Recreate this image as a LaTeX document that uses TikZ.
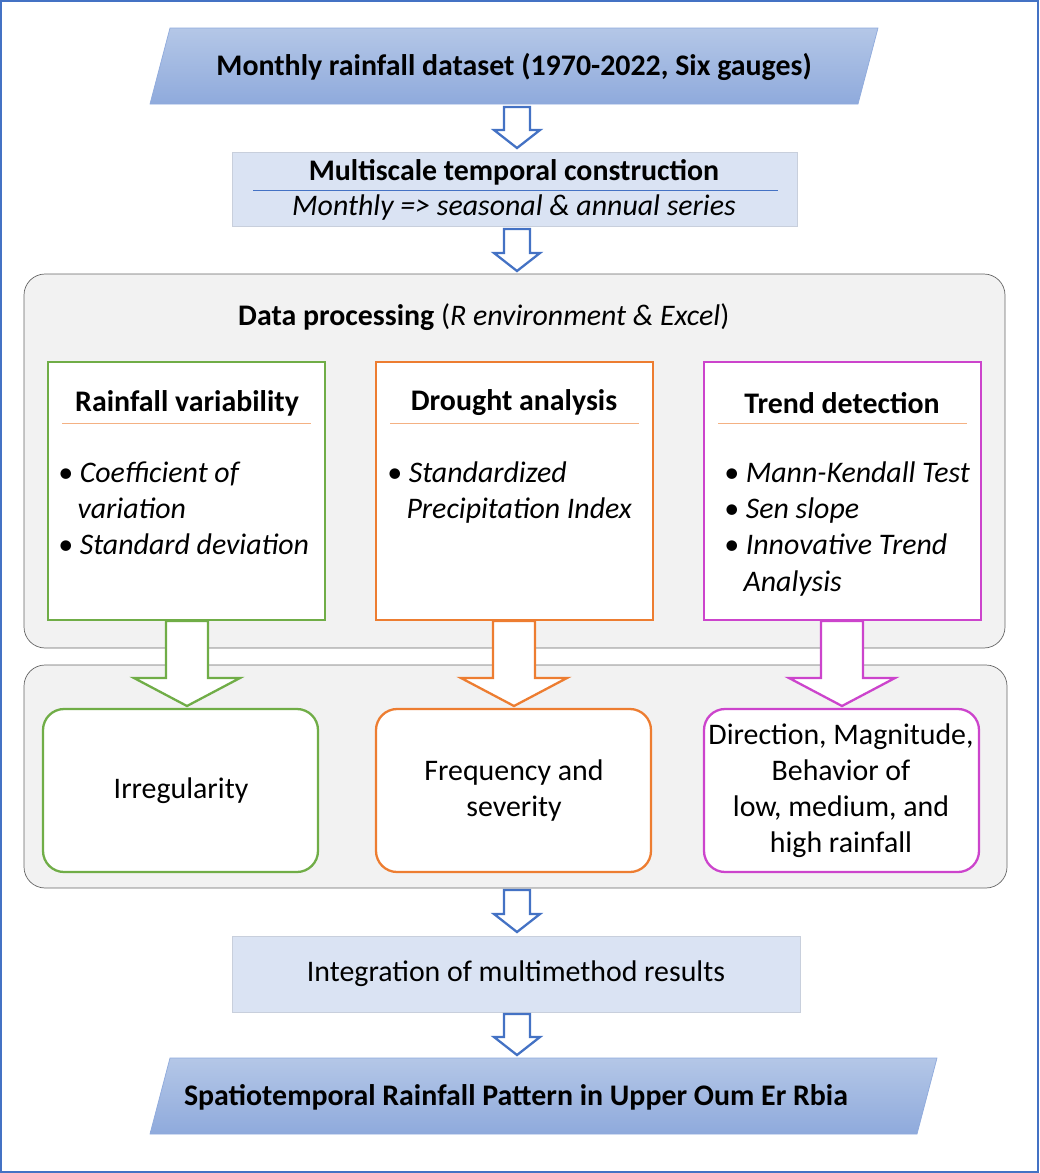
\documentclass[tikz,border=0pt]{standalone}
\usepackage{fontspec}
\setmainfont{Carlito}
\begin{document}
\begin{tikzpicture}[x=0.02cm,y=-0.02cm,
 para/.style={top color=pt,bottom color=pb,shading angle=0},
 lbox/.style={draw=lb!80!gray,fill=lb},
 gbox/.style={draw=gray!80!black,fill=gray!10,rounded corners=12},
 t/.style={font=\fontsize{17}{20.5}\selectfont,align=center},
 tb/.style={t,font=\fontsize{17}{20.5}\selectfont\bfseries}]
\definecolor{cg}{HTML}{70AD47}\definecolor{co}{HTML}{ED7D31}\definecolor{cp}{HTML}{CC44CC}\definecolor{cb}{HTML}{4472C4}
\definecolor{lb}{HTML}{DAE3F3}\definecolor{pt}{HTML}{B4C7E7}\definecolor{pb}{HTML}{8FAADC}
\newcommand\harrow[7]{\draw[#7,line width=1.3pt,fill=white,line join=miter] (#1-#4,#2)--(#1+#4,#2)--(#1+#4,#3-#6)--(#1+#5,#3-#6)--(#1,#3)--(#1-#5,#3-#6)--(#1-#4,#3-#6)--cycle;}
\useasboundingbox (0,0) rectangle (1039,1173);
\draw[cb,line width=0.8pt] (1,1) rectangle (1038,1172);
% top
\shade[para] (170,28)--(878,28)--(858,104)--(150,104)--cycle;
\draw[cb!60] (170,28)--(878,28)--(858,104)--(150,104)--cycle;
\node[tb] (top) at (514,67) {Monthly rainfall dataset (1970-2022, Six gauges)};
\harrow{517}{107}{148}{13}{23}{18}{cb}
\draw[lbox] (232,152) rectangle (797,226);
\node[tb] (ms) at (514,172) {Multiscale temporal construction};
\draw[cb] (253,190)--(778,190);
\node[t,font=\fontsize{17}{20.5}\selectfont\itshape] (ms2) at (514,208) {Monthly => seasonal \& annual series};
\harrow{517}{229}{271}{13}{23}{18}{cb}
% data processing
\draw[gbox] (24,274) rectangle (1005,648);
\node[t,anchor=west] (dp) at (232,317) {\textbf{Data processing} (\textit{R environment \& Excel})};
\foreach \x/\c/\n in {48/cg/a,376/co/b,704/cp/c}{
 \draw[\c,line width=1.3pt,fill=white] (\x,362) rectangle (\x+277,620);
 \draw[co!60] (\x+14,423)--(\x+263,423);
}
\node[tb] at (187,403) {Rainfall variability};
\node[tb] at (514,403) {Drought analysis};
\node[tb] at (842,403) {Trend detection};
\node[t,anchor=north west,align=left,font=\fontsize{17}{20.5}\selectfont\itshape] at (52,456) {\textbullet\ Coefficient of\\\hspace*{11pt}variation\\\textbullet\ Standard deviation};
\node[t,anchor=north west,align=left,font=\fontsize{17}{20.5}\selectfont\itshape] at (381,456) {\textbullet\ Standardized\\\hspace*{11pt}Precipitation Index};
\node[t,anchor=north west,align=left,font=\fontsize{17}{20.5}\selectfont\itshape] at (718,456) {\textbullet\ Mann-Kendall Test\\\textbullet\ Sen slope\\\textbullet\ Innovative Trend\\\hspace*{11pt}Analysis};
% results
\draw[gbox] (24,665) rectangle (1007,888);
\foreach \x/\c in {43/cg,376/co,704/cp}{
 \draw[\c,line width=1.3pt,fill=white,rounded corners=12] (\x,709) rectangle (\x+275,872);}
\harrow{187}{621}{706}{21}{53}{28}{cg}
\harrow{514}{621}{706}{21}{53}{28}{co}
\harrow{842}{621}{706}{21}{53}{28}{cp}
\node[t] at (181,791) {Irregularity};
\node[t] at (514,791) {Frequency and\\severity};
\node[t] at (841,791) {Direction, Magnitude,\\Behavior of\\low, medium, and\\high rainfall};
\harrow{517}{890}{932}{13}{23}{18}{cb}
\draw[lbox] (232,936) rectangle (800,1012);
\node[t] (int) at (516,974) {Integration of multimethod results};
\harrow{517}{1014}{1055}{13}{23}{18}{cb}
\shade[para] (170,1058)--(937,1058)--(917,1134)--(150,1134)--cycle;
\draw[cb!60] (170,1058)--(937,1058)--(917,1134)--(150,1134)--cycle;
\node[tb] (bot) at (516,1097) {Spatiotemporal Rainfall Pattern in Upper Oum Er Rbia};
\end{tikzpicture}
\end{document}
